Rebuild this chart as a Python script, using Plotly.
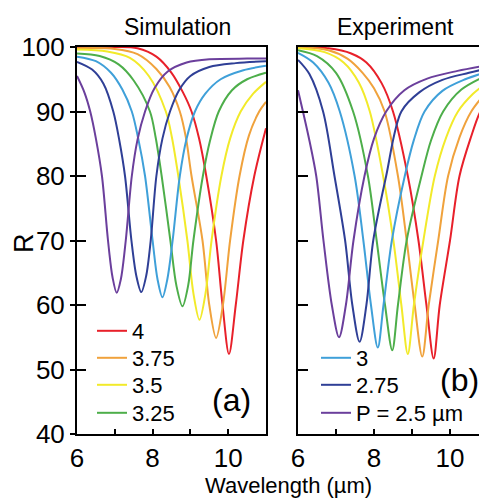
import plotly.graph_objects as go

# ---- data ----
labels = ["4", "3.75", "3.5", "3.25", "3", "2.75", "P = 2.5 µm"]
colors = ["#e8202a", "#f0a23c", "#f2ea2a", "#4dae4a", "#3fa0d9", "#2f3f96", "#6b3f9c"]

# Simulation (panel a)
sim_red_x = [6.0, 7.0, 7.6, 8.1, 8.5, 8.8, 9.03, 9.23, 9.42, 9.68, 9.85, 10.02, 10.2, 10.40, 10.69, 11.0]
sim_red_y = [100.0, 100.0, 99.8, 98.5, 96.0, 93.0, 90.0, 85.8, 80.0, 70.0, 60.0, 52.4, 60.0, 70.0, 80.0, 87.4]
sim_orange_x = [6.0, 7.0, 7.6, 8.1, 8.45, 8.72, 8.88, 9.03, 9.32, 9.5, 9.68, 9.86, 10.05, 10.3, 10.55, 10.82, 11.0]
sim_orange_y = [99.8, 99.7, 98.9, 96.6, 93.8, 90.0, 86.0, 80.0, 70.0, 60.0, 54.9, 60.0, 70.0, 80.0, 86.3, 90.0, 91.5]
sim_yellow_x = [6.0, 6.8, 7.4, 7.9, 8.35, 8.51, 8.68, 8.92, 9.08, 9.24, 9.40, 9.56, 9.82, 10.05, 10.33, 10.65, 11.0]
sim_yellow_y = [99.6, 99.3, 98.3, 95.5, 90.0, 86.0, 80.0, 70.0, 61.8, 57.7, 61.8, 70.0, 80.0, 85.8, 90.0, 92.7, 94.6]
sim_green_x = [6.0, 6.6, 7.1, 7.5, 7.93, 8.08, 8.24, 8.47, 8.63, 8.79, 8.94, 9.08, 9.33, 9.52, 9.75, 10.1, 10.5, 11.0]
sim_green_y = [99.0, 98.6, 97.3, 94.8, 90.0, 86.0, 80.0, 70.0, 63.0, 59.8, 63.0, 70.0, 80.0, 85.5, 90.0, 93.3, 95.0, 96.0]
sim_lblue_x = [6.0, 6.5, 6.9, 7.2, 7.45, 7.62, 7.80, 8.0, 8.13, 8.26, 8.39, 8.53, 8.72, 8.9, 9.12, 9.4, 9.8, 10.4, 11.0]
sim_lblue_y = [98.5, 97.8, 96.0, 93.4, 90.0, 85.8, 80.0, 70.0, 64.0, 61.2, 64.0, 70.0, 80.0, 85.8, 90.0, 92.8, 95.0, 96.4, 97.1]
sim_dblue_x = [6.0, 6.4, 6.7, 6.96, 7.12, 7.27, 7.44, 7.57, 7.70, 7.83, 7.95, 8.10, 8.26, 8.46, 8.7, 9.0, 9.5, 10.2, 11.0]
sim_dblue_y = [97.7, 96.5, 94.3, 90.0, 85.5, 80.0, 70.0, 64.5, 62.0, 64.5, 70.0, 80.0, 85.8, 90.0, 93.3, 95.5, 96.9, 97.5, 97.8]
sim_purple_x = [6.0, 6.2, 6.35, 6.5, 6.66, 6.82, 6.94, 7.05, 7.16, 7.29, 7.45, 7.6, 7.8, 8.05, 8.4, 8.9, 9.5, 10.5, 11.0]
sim_purple_y = [95.5, 92.9, 90.0, 85.8, 80.0, 70.0, 64.3, 61.9, 64.0, 70.0, 80.0, 85.6, 90.0, 93.6, 96.2, 97.6, 98.1, 98.2, 98.2]

# Experiment (panel b)
exp_red_x = [6.0, 6.8, 7.4, 7.8, 8.2, 8.5, 8.89, 9.17, 9.38, 9.57, 9.73, 10.0, 10.25, 10.55, 10.8, 11.0]
exp_red_y = [100.0, 99.8, 99.0, 97.6, 94.4, 90.0, 80.0, 70.0, 60.0, 51.7, 60.0, 70.0, 80.0, 86.0, 90.0, 91.5]
exp_orange_x = [6.0, 6.8, 7.3, 7.7, 8.0, 8.28, 8.63, 8.86, 9.07, 9.27, 9.44, 9.69, 9.95, 10.25, 10.56, 11.0]
exp_orange_y = [100.0, 99.5, 98.2, 96.0, 93.6, 90.0, 80.0, 70.0, 60.0, 52.0, 60.0, 70.0, 80.0, 86.0, 90.0, 93.3]
exp_yellow_x = [6.0, 6.7, 7.2, 7.6, 7.89, 8.24, 8.51, 8.72, 8.89, 9.05, 9.30, 9.6, 9.9, 10.21, 10.6, 11.0]
exp_yellow_y = [99.8, 99.2, 97.6, 94.5, 90.0, 80.0, 70.0, 60.0, 52.4, 60.0, 70.0, 80.0, 86.0, 90.0, 92.7, 94.6]
exp_green_x = [6.0, 6.5, 7.0, 7.45, 7.84, 8.07, 8.29, 8.48, 8.63, 8.86, 9.25, 9.50, 9.82, 10.3, 11.0]
exp_green_y = [99.5, 98.6, 96.0, 90.0, 80.0, 70.0, 60.0, 53.0, 60.0, 70.0, 80.0, 85.5, 90.0, 93.4, 95.7]
exp_lblue_x = [6.0, 6.4, 6.8, 7.10, 7.49, 7.72, 7.92, 8.10, 8.25, 8.47, 8.81, 9.05, 9.33, 9.8, 10.4, 11.0]
exp_lblue_y = [99.1, 97.6, 94.5, 90.0, 80.0, 70.0, 60.0, 53.4, 60.0, 70.0, 80.0, 85.6, 90.0, 93.2, 95.0, 96.2]
exp_dblue_x = [6.0, 6.3, 6.66, 6.96, 7.24, 7.43, 7.62, 7.80, 7.98, 8.32, 8.72, 9.2, 9.8, 10.5, 11.0]
exp_dblue_y = [98.0, 95.8, 90.0, 80.0, 70.0, 60.0, 54.3, 60.0, 70.0, 80.0, 90.0, 93.0, 94.9, 96.0, 96.7]
exp_purple_x = [6.0, 6.13, 6.3, 6.48, 6.67, 6.89, 7.08, 7.26, 7.46, 7.75, 8.0, 8.32, 8.8, 9.4, 10.2, 11.0]
exp_purple_y = [93.3, 90.0, 85.5, 80.0, 70.0, 60.0, 55.0, 60.0, 70.0, 80.0, 85.8, 90.0, 93.3, 95.1, 96.3, 97.2]

sim_x = [sim_red_x, sim_orange_x, sim_yellow_x, sim_green_x, sim_lblue_x, sim_dblue_x, sim_purple_x]
sim_y = [sim_red_y, sim_orange_y, sim_yellow_y, sim_green_y, sim_lblue_y, sim_dblue_y, sim_purple_y]
exp_x = [exp_red_x, exp_orange_x, exp_yellow_x, exp_green_x, exp_lblue_x, exp_dblue_x, exp_purple_x]
exp_y = [exp_red_y, exp_orange_y, exp_yellow_y, exp_green_y, exp_lblue_y, exp_dblue_y, exp_purple_y]

x_ticks = [6, 8, 10]
y_ticks = [40, 50, 60, 70, 80, 90, 100]

# ---- figure ----
# The page body has an 8 px margin, so the figure is 8 px smaller than the window
OFF = 8
W, H = 487 - OFF, 504 - OFF
FONT = "Liberation Sans, Arial, sans-serif"

def px(x):
    return (x - OFF) / W

def py(y):
    return 1 - (y - OFF) / H

# one single-entry legend per labelled curve: (legend id, legend left x, row centre y)
legend_pos = {
    0: ("legend", 92, 331), 1: ("legend2", 92, 358), 2: ("legend3", 92, 385), 3: ("legend4", 92, 413),
    4: ("legend5", 316, 358), 5: ("legend6", 316, 385), 6: ("legend7", 316, 413),
}

fig = go.Figure()
for i in range(7):
    fig.add_trace(go.Scatter(
        x=sim_x[i], y=sim_y[i], mode="lines", name=labels[i],
        line=dict(color=colors[i], width=2, shape="spline", smoothing=0.9),
        xaxis="x", yaxis="y", legend=legend_pos[i][0], showlegend=(i < 4)))
for i in range(7):
    fig.add_trace(go.Scatter(
        x=exp_x[i], y=exp_y[i], mode="lines", name=labels[i],
        line=dict(color=colors[i], width=2, shape="spline", smoothing=0.9),
        xaxis="x2", yaxis="y2", legend=legend_pos[i][0], showlegend=(i >= 4)))

dom_y = [py(434), py(47)]
xcommon = dict(range=[6, 11], tickvals=x_ticks, ticks="inside", ticklen=5, tickwidth=2,
               tickcolor="black", showline=True, linewidth=2, linecolor="black",
               mirror=True, showgrid=False, zeroline=False, automargin=False,
               minor=dict(dtick=1, ticks="inside", ticklen=5, tickwidth=2, tickcolor="black"),
               tickfont=dict(family=FONT, size=26, color="black"), ticklabelstandoff=0)

layout = dict(
    width=W, height=H, margin=dict(l=0, r=0, t=0, b=0, autoexpand=False),
    paper_bgcolor="white", plot_bgcolor="white",
    xaxis=dict(domain=[px(77), px(266)], anchor="y", **xcommon),
    xaxis2=dict(domain=[px(298), 1.0], anchor="y2",
                **{**xcommon, "range": [6, 6 + (487 - 298) / 38.0]}),
    yaxis=dict(domain=dom_y, anchor="x", range=[40, 100], tickvals=y_ticks,
               ticks="outside", ticklen=5, tickwidth=2, tickcolor="black",
               showline=True, linewidth=2, linecolor="black", mirror=True,
               showgrid=False, zeroline=False, automargin=False,
               tickfont=dict(family=FONT, size=26, color="black")),
    yaxis3=dict(domain=dom_y, anchor="x", overlaying="y", range=[40, 100], tickvals=y_ticks,
                ticks="inside", ticklen=9, tickwidth=2, tickcolor="black", automargin=False,
                showticklabels=False, showline=False, showgrid=False, zeroline=False),
    yaxis2=dict(domain=dom_y, anchor="x2", range=[40, 100], tickvals=y_ticks,
                ticks="inside", ticklen=10, tickwidth=2, tickcolor="black", automargin=False,
                showticklabels=False, showline=True, linewidth=2, linecolor="black",
                mirror=False, showgrid=False, zeroline=False),
)
for i, (lid, lx, ly) in legend_pos.items():
    layout[lid] = dict(x=px(lx), y=py(ly), xanchor="left", yanchor="middle",
                       bgcolor="rgba(0,0,0,0)", borderwidth=0,
                       font=dict(family=FONT, size=22, color="black"))
fig.update_layout(**layout)

fig.add_trace(go.Scatter(x=[], y=[], xaxis="x", yaxis="y3", showlegend=False))

ann = [
    dict(text="Simulation", x=px(177), y=py(27), size=23, angle=0),
    dict(text="Experiment", x=px(395), y=py(27), size=23, angle=0),
    dict(text="Wavelength (µm)", x=px(288), y=py(485), size=22, angle=0),
    dict(text="R", x=px(24), y=py(243), size=27, angle=-90),
    dict(text="(a)", x=px(231), y=py(400), size=32, angle=0),
    dict(text="(b)", x=px(459), y=py(380), size=32, angle=0),
]
for a in ann:
    fig.add_annotation(text=a["text"], x=a["x"], y=a["y"], xref="paper", yref="paper",
                       xanchor="center", yanchor="middle", showarrow=False,
                       textangle=a["angle"],
                       font=dict(family=FONT, size=a["size"], color="black"))

fig.write_html("out.html")
